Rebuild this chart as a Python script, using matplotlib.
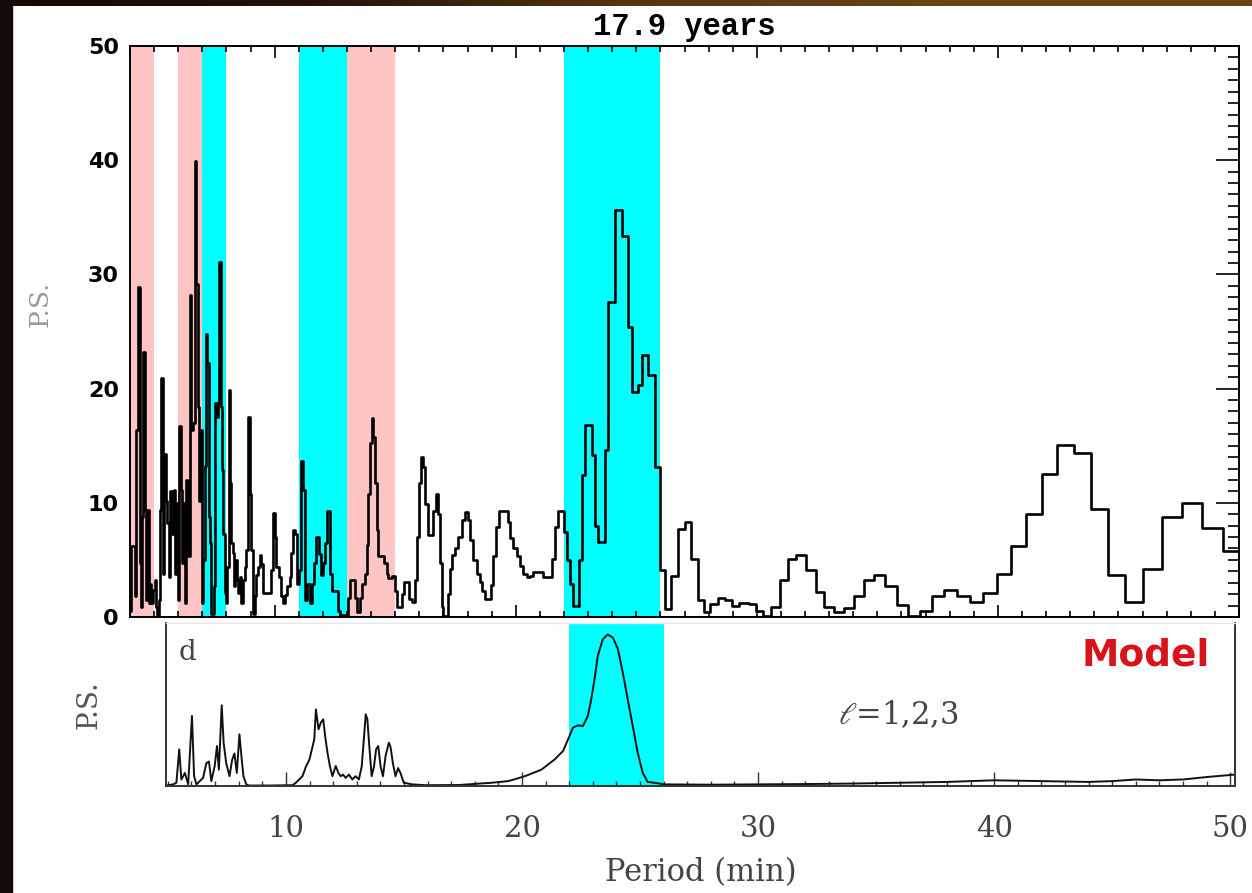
import numpy as np
import matplotlib.pyplot as plt
from matplotlib.ticker import MultipleLocator
from matplotlib.colors import LinearSegmentedColormap
from matplotlib.patches import Rectangle

plt.rcParams['mathtext.fontset'] = 'dejavuserif'

# observed power spectrum, one value per bin (left edge of bin in minutes)
obs_period = [
    4.00, 4.03, 4.19, 4.26, 4.33, 4.40, 4.44, 4.50, 4.55, 4.61, 4.65, 4.69,
    4.79, 4.83, 4.89, 4.95, 5.02, 5.08, 5.13, 5.19, 5.24, 5.30, 5.36, 5.41,
    5.48, 5.55, 5.60, 5.67, 5.74, 5.81, 5.85, 5.94, 5.99, 6.05, 6.10, 6.16,
    6.23, 6.30, 6.34, 6.41, 6.49, 6.54, 6.61, 6.68, 6.75, 6.81, 6.86, 6.93,
    6.99, 7.04, 7.10, 7.15, 7.21, 7.26, 7.32, 7.37, 7.48, 7.54, 7.59, 7.65,
    7.71, 7.76, 7.82, 7.87, 7.93, 7.98, 8.04, 8.09, 8.15, 8.20, 8.26, 8.31,
    8.37, 8.42, 8.48, 8.56, 8.62, 8.69, 8.76, 8.83, 8.89, 8.96, 9.03, 9.09,
    9.17, 9.24, 9.31, 9.38, 9.45, 9.52, 9.72, 9.83, 9.92, 10.00, 10.07, 10.17,
    10.25, 10.35, 10.44, 10.53, 10.62, 10.69, 10.77, 10.86, 10.94, 11.01, 11.08, 11.18,
    11.25, 11.36, 11.45, 11.55, 11.63, 11.73, 11.83, 11.91, 12.00, 12.07, 12.16, 12.30,
    12.37, 12.64, 12.70, 13.06, 13.13, 13.33, 13.40, 13.54, 13.61, 13.75, 13.82, 13.89,
    13.96, 14.03, 14.10, 14.16, 14.23, 14.30, 14.55, 14.65, 14.72, 14.86, 14.99, 15.06,
    15.27, 15.38, 15.57, 15.71, 15.82, 15.92, 15.99, 16.07, 16.17, 16.24, 16.35, 16.58,
    16.68, 16.79, 16.86, 16.93, 17.00, 17.18, 17.27, 17.37, 17.48, 17.62, 17.76, 17.90,
    18.03, 18.10, 18.24, 18.38, 18.52, 18.62, 18.73, 18.98, 19.07, 19.17, 19.31, 19.67,
    19.76, 19.90, 20.04, 20.18, 20.32, 20.45, 20.59, 20.73, 21.15, 21.49, 21.63, 21.77,
    22.02, 22.11, 22.25, 22.39, 22.62, 22.74, 22.87, 23.15, 23.29, 23.43, 23.70, 23.84,
    24.12, 24.40, 24.67, 24.81, 25.09, 25.22, 25.50, 25.78, 25.98, 26.19, 26.45, 26.72,
    27.00, 27.25, 27.55, 27.82, 28.06, 28.39, 28.68, 28.99, 29.28, 29.68, 29.96, 30.25,
    30.57, 30.95, 31.30, 31.63, 32.03, 32.44, 32.80, 33.21, 33.60, 34.02, 34.43, 34.86,
    35.32, 35.80, 36.29, 36.77, 37.26, 37.78, 38.30, 38.83, 39.40, 39.96, 40.56, 41.18,
    41.83, 42.47, 43.15, 43.85, 44.55, 45.27, 46.03, 46.81, 47.62, 48.46, 49.35, 50.00,
]
obs_power = [
    0.5, 6.2, 1.8, 16.4, 28.9, 4.7, 0.9, 8.8, 23.2, 9.4, 1.5, 9.4,
    1.2, 2.9, 1.2, 2.4, 3.2, 0.9, 0.2, 1.5, 9.4, 20.9, 3.8, 14.3,
    10.2, 8.2, 3.5, 11.0, 7.3, 11.1, 3.8, 10.0, 1.5, 16.7, 11.1, 4.7,
    10.0, 1.2, 12.0, 5.3, 28.2, 16.4, 17.0, 39.9, 29.2, 18.4, 10.2, 16.4,
    1.2, 5.0, 13.2, 24.8, 22.2, 8.8, 6.5, 0.3, 2.7, 18.7, 17.5, 18.7,
    31.1, 18.4, 12.9, 7.3, 2.1, 1.2, 4.4, 19.9, 11.7, 6.5, 5.6, 2.7,
    5.0, 3.2, 2.1, 3.5, 1.2, 3.2, 4.4, 5.9, 17.5, 10.8, 5.9, 0.3,
    1.8, 3.7, 4.4, 5.4, 4.6, 2.1, 2.1, 4.1, 9.1, 7.0, 4.4, 3.5,
    1.8, 1.2, 1.9, 2.7, 3.5, 5.6, 7.6, 7.3, 2.9, 4.1, 13.7, 11.1,
    1.5, 2.9, 1.2, 2.9, 4.7, 7.0, 5.5, 3.7, 4.7, 6.5, 9.3, 3.8,
    2.3, 0.5, 0.2, 1.7, 3.2, 1.7, 0.4, 1.7, 2.9, 3.8, 6.3, 10.8,
    15.2, 17.4, 15.8, 11.7, 7.6, 5.3, 4.7, 3.8, 3.4, 3.6, 2.3, 0.9,
    2.0, 3.1, 1.6, 1.3, 3.2, 7.0, 11.7, 14.0, 13.1, 9.9, 7.2, 9.3,
    10.8, 9.0, 4.7, 0.9, 0.1, 2.0, 4.2, 5.4, 6.0, 7.0, 8.5, 9.2,
    8.5, 6.7, 5.0, 3.8, 3.1, 2.3, 1.6, 2.8, 5.3, 7.9, 9.3, 8.3,
    6.9, 6.0, 5.3, 4.5, 3.8, 3.5, 3.6, 3.9, 3.5, 5.1, 7.9, 9.3,
    7.4, 5.0, 2.9, 1.0, 5.0, 12.4, 16.8, 14.2, 8.0, 6.6, 14.6, 27.6,
    35.6, 33.4, 25.4, 19.7, 20.3, 22.9, 21.2, 13.1, 4.1, 0.7, 3.6, 7.7,
    8.3, 5.1, 1.5, 0.4, 1.1, 1.7, 1.5, 1.0, 1.2, 1.1, 0.5, 0.1,
    0.85, 3.2, 5.1, 5.4, 4.1, 2.2, 0.85, 0.4, 0.8, 1.8, 3.2, 3.7,
    2.7, 1.05, 0.1, 0.55, 1.8, 2.4, 1.8, 1.3, 2.1, 3.8, 6.2, 9.0,
    12.5, 15.1, 14.4, 9.5, 3.7, 1.3, 4.2, 8.8, 10.0, 7.8, 5.8, 5.8,
]

# model power spectrum (arbitrary units)
mod_period = [
    5.01, 5.22, 5.36, 5.48, 5.57, 5.72, 5.86, 6.02, 6.11, 6.21, 6.35, 6.49,
    6.63, 6.74, 6.84, 6.98, 7.08, 7.16, 7.28, 7.36, 7.47, 7.61, 7.72, 7.82,
    7.92, 8.03, 8.13, 8.20, 8.32, 8.43, 9.30, 10.28, 10.42, 10.56, 10.70, 10.85,
    10.99, 11.10, 11.20, 11.27, 11.38, 11.48, 11.58, 11.66, 11.76, 11.86, 11.97, 12.11,
    12.22, 12.32, 12.42, 12.53, 12.67, 12.81, 12.95, 13.09, 13.21, 13.30, 13.38, 13.45,
    13.52, 13.63, 13.73, 13.82, 13.91, 14.01, 14.11, 14.22, 14.36, 14.43, 14.53, 14.64,
    14.75, 14.85, 14.99, 15.34, 15.90, 17.31, 18.72, 19.42, 20.12, 20.82, 21.39, 21.74,
    21.95, 22.16, 22.37, 22.58, 22.79, 22.93, 23.07, 23.21, 23.42, 23.63, 23.85, 24.06,
    24.27, 24.48, 24.69, 24.90, 25.11, 25.32, 25.60, 26.02, 28.0, 30.0, 32.0, 34.0,
    36.0, 38.0, 40.0, 42.0, 44.0, 45.0, 46.0, 47.0, 48.0, 49.0, 50.2,
]
mod_power = [
    0.5, 1.0, 2.0, 22.5, 4.0, 8.0, 1.0, 43.0, 6.0, 1.0, 3.0, 5.0,
    14.0, 15.0, 3.0, 12.0, 24.5, 10.0, 49.5, 26.6, 14.0, 6.0, 16.0, 20.0,
    8.0, 31.7, 16.0, 6.0, 1.0, 0.3, 0.3, 0.5, 2.0, 4.0, 6.0, 12.0,
    16.0, 22.5, 28.6, 47.0, 34.8, 38.9, 40.9, 30.7, 20.4, 12.3, 6.0, 12.3,
    8.0, 6.0, 7.0, 5.0, 7.0, 4.0, 6.0, 4.0, 12.0, 28.6, 44.0, 40.9,
    26.6, 6.0, 12.0, 22.5, 24.5, 12.0, 6.0, 18.4, 26.6, 24.0, 14.0, 6.0,
    11.0, 8.0, 2.0, 1.0, 0.5, 0.6, 2.0, 3.0, 6.0, 10.0, 16.4, 21.5,
    28.6, 35.8, 37.2, 36.8, 43.0, 53.0, 65.4, 79.8, 90.0, 93.0, 91.0, 84.0,
    69.5, 53.0, 36.8, 20.4, 8.2, 2.5, 2.0, 1.0, 0.8, 1.0, 1.2, 1.5,
    2.0, 2.5, 3.5, 3.0, 2.5, 3.0, 4.0, 3.5, 4.0, 5.5, 7.0,
]

# highlighted period ranges (min)
pink_bands = [(4.0, 5.0), (6.0, 7.0), (13.0, 15.0)]
cyan_bands = [(7.0, 8.0), (11.0, 13.0), (22.0, 26.0)]
model_band = (22.0, 26.0)

PINK = '#ffc4c4'
CYAN = '#00ffff'
W, H = 1252, 893


def main():
    fig = plt.figure(figsize=(W / 100, H / 100), dpi=100, facecolor='white')

    # dark frame along the left and top edges
    fig.patches.append(Rectangle((0, 0), 12 / W, 1, transform=fig.transFigure,
                                 color='#130906', zorder=-5))
    strip = fig.add_axes([0, 1 - 6 / H, 1, 6 / H])
    strip_cmap = LinearSegmentedColormap.from_list(
        'strip', ['#140907', '#24120a', '#553510', '#6a4414', '#6b4515'])
    strip.imshow(np.linspace(0, 1, 256)[None, :], aspect='auto', cmap=strip_cmap)
    strip.axis('off')

    # --- observed spectrum ---
    ax1 = fig.add_axes([130 / W, 1 - 617 / H, 1109 / W, 571 / H])
    for a, b in pink_bands:
        ax1.axvspan(a, b, color=PINK, lw=0, zorder=0)
    for a, b in cyan_bands:
        ax1.axvspan(a, b, color=CYAN, lw=0, zorder=0)
    ax1.step(obs_period, obs_power, where='post', color='black', lw=1.9)

    ax1.set_xlim(4, 50)
    ax1.set_ylim(0, 50)
    ax1.xaxis.set_major_locator(MultipleLocator(10))
    ax1.xaxis.set_minor_locator(MultipleLocator(1))
    ax1.yaxis.set_major_locator(MultipleLocator(10))
    ax1.yaxis.set_minor_locator(MultipleLocator(1))
    ax1.tick_params(axis='x', which='both', direction='in', top=True, bottom=True,
                    labelbottom=False, width=1.2, color='black')
    ax1.tick_params(axis='x', which='major', length=8.5)
    ax1.tick_params(axis='x', which='minor', length=4.3)
    ax1.tick_params(axis='y', which='both', direction='in', left=False, right=True,
                    labelleft=True, width=1.2)
    ax1.tick_params(axis='y', which='major', length=16.5, pad=8, labelsize=16)
    ax1.tick_params(axis='y', which='minor', length=8)
    for lbl in ax1.get_yticklabels():
        lbl.set_fontweight('bold')
    for sp in ax1.spines.values():
        sp.set_linewidth(1.4)

    ax1.set_title('17.9 years', fontfamily='Liberation Mono', fontweight='bold',
                  fontsize=22, pad=8)
    ax1.text(-0.081, 0.548, 'P.S.', transform=ax1.transAxes, rotation=90,
             ha='center', va='center', fontsize=19, color='#999999',
             family='DejaVu Serif')

    # --- model spectrum ---
    ax2 = fig.add_axes([166 / W, 1 - 786 / H, 1069 / W, 163 / H])
    ax2.axvspan(*model_band, color=CYAN, lw=0, zorder=0)
    ax2.plot(mod_period, mod_power, color='#111111', lw=1.4)

    ax2.set_xlim(4.92, 50.2)
    ax2.set_ylim(0, 100)
    ax2.set_yticks([])
    ax2.xaxis.set_major_locator(MultipleLocator(10))
    ax2.xaxis.set_minor_locator(MultipleLocator(1))
    ax2.tick_params(axis='x', which='both', direction='in', color='#333333',
                    width=1.0, labelsize=21, labelcolor='#444444', pad=21)
    ax2.tick_params(axis='x', which='major', length=10)
    ax2.tick_params(axis='x', which='minor', length=3.6)
    for lbl in ax2.get_xticklabels():
        lbl.set_family('DejaVu Serif')
    for name in ('left', 'right', 'bottom'):
        ax2.spines[name].set_color('#333333')
        ax2.spines[name].set_linewidth(1.4)
    ax2.spines['top'].set_color('#e6e6e6')
    ax2.spines['top'].set_linewidth(1.0)

    ax2.set_xlabel('Period (min)', fontsize=22, family='DejaVu Serif',
                   color='#444444', labelpad=10)
    ax2.text(-0.072, 0.5, 'P.S.', transform=ax2.transAxes, rotation=90,
             ha='center', va='center', fontsize=20, color='#555555',
             family='DejaVu Serif')
    ax2.text(0.02, 0.816, 'd', transform=ax2.transAxes, ha='center', va='center',
             fontsize=20, color='#444444', family='DejaVu Serif')
    ax2.text(0.685, 0.436, r'$\ell$=1,2,3', transform=ax2.transAxes,
             ha='center', va='center', fontsize=22, color='#444444',
             family='DejaVu Serif')
    ax2.text(0.916, 0.80, 'Model', transform=ax2.transAxes, ha='center',
             va='center', fontsize=27, color='#d8141a', fontweight='bold')

    fig.savefig('out.png', dpi=100, facecolor=fig.get_facecolor())


if __name__ == "__main__":
    main()
